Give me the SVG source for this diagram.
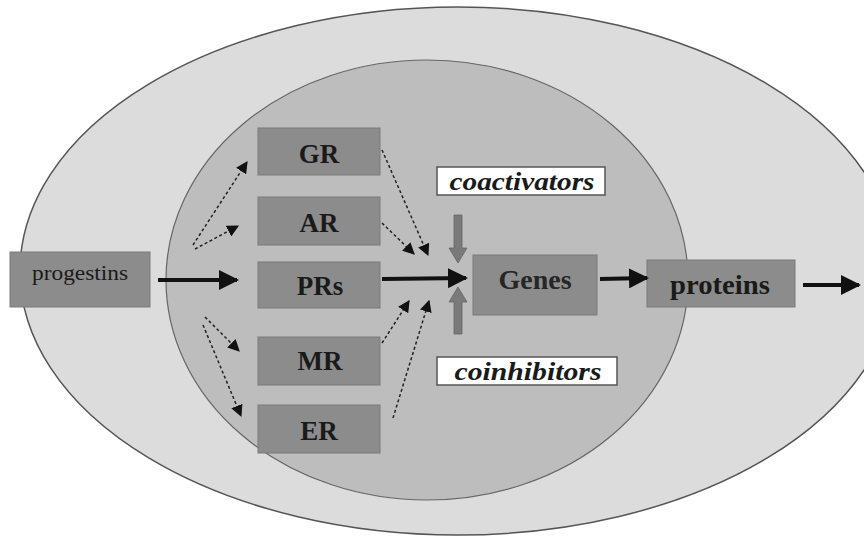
<svg xmlns="http://www.w3.org/2000/svg" width="864" height="537" viewBox="0 0 864 537">
<defs>
<style>
.box{fill:#8c8c8c;stroke:#7a7a7a;stroke-width:1}
.lbl{fill:#fff;stroke:#555;stroke-width:1.5}
.t{font-family:"Liberation Serif","Times New Roman",serif;font-weight:bold;fill:#1a1a1a;text-anchor:middle}
.ti{font-family:"Liberation Serif","Times New Roman",serif;font-weight:bold;font-style:italic;fill:#1a1a1a;text-anchor:middle}
.thick{stroke:#111;stroke-width:4;fill:none}
.dash{stroke:#222;stroke-width:1.5;stroke-dasharray:3 2.5;fill:none}
</style>
<marker id="ah" viewBox="0 0 10 10" refX="9" refY="5" markerWidth="5" markerHeight="5" orient="auto" markerUnits="strokeWidth">
<path d="M0,0 L10,5 L0,10 z" fill="#111"/>
</marker>
<marker id="dh" viewBox="0 0 10 10" refX="9" refY="5" markerWidth="8" markerHeight="8" orient="auto" markerUnits="strokeWidth">
<path d="M0,0 L10,5 L0,10 z" fill="#111"/>
</marker>
</defs>
<rect width="864" height="537" fill="#fff"/>
<g id="cell">
<ellipse cx="458" cy="271" rx="438" ry="264" fill="#dcdcdc" stroke="#555" stroke-width="1.5"/>
</g>
<g id="nucleus">
<ellipse cx="427" cy="280" rx="261" ry="220" fill="#bdbdbd" stroke="#666" stroke-width="1.2"/>
</g>
<g id="progestins">
<rect class="box" x="10" y="252" width="140" height="55"/>
<text x="80" y="280" font-family="Liberation Serif, serif" font-size="21" fill="#1a1a1a" text-anchor="middle" textLength="96" lengthAdjust="spacingAndGlyphs">progestins</text>
</g>
<g id="GR">
<rect class="box" x="258" y="128" width="122" height="47"/>
<text class="t" x="319" y="163" font-size="27">GR</text>
</g>
<g id="AR">
<rect class="box" x="258" y="197" width="122" height="48"/>
<text class="t" x="319" y="232" font-size="27">AR</text>
</g>
<g id="PRs">
<rect class="box" x="258" y="262" width="122" height="46"/>
<text class="t" x="320" y="295" font-size="27">PRs</text>
</g>
<g id="MR">
<rect class="box" x="258" y="337" width="122" height="48"/>
<text class="t" x="320" y="370" font-size="27">MR</text>
</g>
<g id="ER">
<rect class="box" x="258" y="405" width="122" height="48"/>
<text class="t" x="319" y="440" font-size="27">ER</text>
</g>
<g id="Genes">
<rect class="box" x="473" y="255" width="124" height="60"/>
<text class="t" x="535" y="289" font-size="28" style="fill:#262626">Genes</text>
</g>
<g id="proteins">
<rect class="box" x="647" y="260" width="148" height="47"/>
<text class="t" x="720" y="294" font-size="27" textLength="100" lengthAdjust="spacingAndGlyphs">proteins</text>
</g>
<g id="coactivators">
<rect class="lbl" x="437" y="167" width="168" height="28"/>
<text class="ti" x="522" y="190" font-size="25" textLength="145" lengthAdjust="spacingAndGlyphs">coactivators</text>
</g>
<g id="coinhibitors">
<rect class="lbl" x="437" y="357" width="180" height="28"/>
<text class="ti" x="528" y="380" font-size="25" textLength="147" lengthAdjust="spacingAndGlyphs">coinhibitors</text>
</g>
<g id="connectors">
<line class="thick" x1="158" y1="280" x2="237" y2="280" marker-end="url(#ah)"/>
<line class="thick" x1="382" y1="279" x2="466" y2="278" marker-end="url(#ah)"/>
<line class="thick" x1="600" y1="279" x2="647" y2="278" marker-end="url(#ah)"/>
<line class="thick" x1="803" y1="285" x2="859" y2="285" marker-end="url(#ah)"/>
<line class="dash" x1="193" y1="245" x2="247" y2="162" marker-end="url(#dh)"/>
<line class="dash" x1="195" y1="249" x2="238" y2="226" marker-end="url(#dh)"/>
<line class="dash" x1="205" y1="317" x2="239" y2="351" marker-end="url(#dh)"/>
<line class="dash" x1="203" y1="325" x2="241" y2="416" marker-end="url(#dh)"/>
<line class="dash" x1="382" y1="150" x2="428" y2="255" marker-end="url(#dh)"/>
<line class="dash" x1="382" y1="223" x2="414" y2="254" marker-end="url(#dh)"/>
<line class="dash" x1="382" y1="343" x2="409" y2="301" marker-end="url(#dh)"/>
<line class="dash" x1="393" y1="418" x2="429" y2="301" marker-end="url(#dh)"/>
<path d="M454,215 L462,215 L462,248 L467,248 L458,263 L449,248 L454,248 z" fill="#7a7a7a" stroke="#666" stroke-width="0.8"/>
<path d="M454,334 L462,334 L462,302 L467,302 L458,287 L449,302 L454,302 z" fill="#7a7a7a" stroke="#666" stroke-width="0.8"/>
</g>
</svg>
